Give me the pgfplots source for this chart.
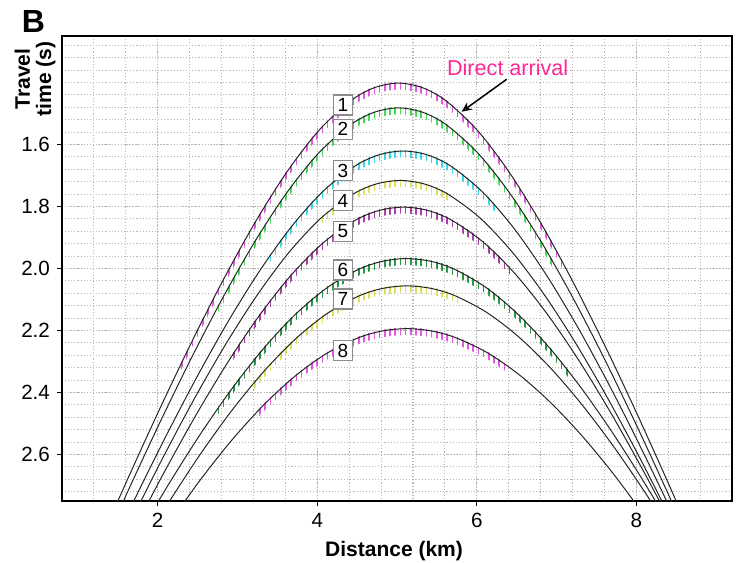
\documentclass[border=0pt]{standalone}
\usepackage{pgfplots}
\pgfplotsset{compat=1.18}
\usepackage{pgfplotstable}
\usepgfplotslibrary{fillbetween}
\usetikzlibrary{patterns.meta,arrows.meta}
\usepackage{fontspec}
\setmainfont{Liberation Sans}

\definecolor{cMag}{RGB}{225,90,225}
\definecolor{cGrn}{RGB}{70,215,90}
\definecolor{cCyan}{RGB}{60,215,230}
\definecolor{cYel}{RGB}{222,222,95}
\definecolor{cPur}{RGB}{170,65,170}
\definecolor{cDgrn}{RGB}{40,150,70}
\definecolor{cPink}{RGB}{255,40,150}

% travel-time curves (x in km, t in s)
\pgfplotstableread{
x t
1.22 2.9134
1.62 2.6809
2.02 2.4558
2.42 2.2403
2.82 2.0376
3.22 1.8518
3.62 1.6885
4.02 1.5548
4.42 1.4588
4.72 1.4164
5.02 1.4020
5.32 1.4168
5.62 1.4601
6.02 1.5581
6.42 1.6946
6.82 1.8609
7.22 2.0500
7.62 2.2561
8.02 2.4750
8.42 2.7034
8.82 2.9394
}\tabA
\pgfplotstableread{
x t
1.22 2.9506
1.62 2.7217
2.02 2.5007
2.42 2.2899
2.82 2.0924
3.22 1.9123
3.62 1.7550
4.02 1.6270
4.42 1.5358
4.72 1.4956
5.02 1.4820
5.32 1.4959
5.62 1.5367
6.02 1.6295
6.42 1.7594
6.82 1.9191
7.22 2.1016
7.62 2.3017
8.02 2.5151
8.42 2.7386
8.82 2.9701
}\tabB
\pgfplotstableread{
x t
1.28 2.9775
1.68 2.7607
2.08 2.5526
2.48 2.3554
2.88 2.1722
3.28 2.0068
3.68 1.8640
4.08 1.7492
4.48 1.6683
4.78 1.6329
5.08 1.6210
5.38 1.6335
5.68 1.6706
6.08 1.7552
6.48 1.8751
6.88 2.0239
7.28 2.1957
7.68 2.3856
8.08 2.5897
8.48 2.8047
8.88 3.0285
}\tabC
\pgfplotstableread{
x t
1.24 3.0427
1.64 2.8282
2.04 2.6229
2.44 2.4290
2.84 2.2496
3.24 2.0884
3.64 1.9498
4.04 1.8390
4.44 1.7613
4.74 1.7274
5.04 1.7160
5.34 1.7272
5.64 1.7605
6.04 1.8368
6.44 1.9457
6.84 2.0821
7.24 2.2410
7.64 2.4179
8.04 2.6091
8.44 2.8118
8.84 3.0236
}\tabD
\pgfplotstableread{
x t
1.28 3.0612
1.68 2.8548
2.08 2.6578
2.48 2.4727
2.88 2.3021
3.28 2.1497
3.68 2.0195
4.08 1.9161
4.48 1.8439
4.78 1.8126
5.08 1.8020
5.38 1.8124
5.68 1.8434
6.08 1.9147
6.48 2.0169
6.88 2.1457
7.28 2.2966
7.68 2.4654
8.08 2.6489
8.48 2.8440
8.88 3.0487
}\tabE
\pgfplotstableread{
x t
1.32 3.0630
1.72 2.8781
2.12 2.7031
2.52 2.5401
2.92 2.3915
3.32 2.2603
3.72 2.1496
4.12 2.0626
4.52 2.0026
4.82 1.9767
5.12 1.9680
5.42 1.9766
5.72 2.0024
6.12 2.0620
6.52 2.1485
6.92 2.2585
7.32 2.3890
7.72 2.5367
8.12 2.6989
8.52 2.8730
8.92 3.0571
}\tabF
\pgfplotstableread{
x t
1.72 2.9322
2.12 2.7622
2.52 2.6044
2.92 2.4611
3.32 2.3350
3.72 2.2289
4.12 2.1460
4.52 2.0888
4.82 2.0643
5.12 2.0560
5.42 2.0638
5.72 2.0870
6.12 2.1409
6.52 2.2193
6.92 2.3197
7.32 2.4395
7.72 2.5759
8.12 2.7264
8.52 2.8887
}\tabG
\pgfplotstableread{
x t
2.12 2.8311
2.52 2.6867
2.92 2.5564
3.32 2.4425
3.72 2.3475
4.12 2.2736
4.52 2.2230
4.82 2.2013
5.12 2.1940
5.42 2.2009
5.72 2.2216
6.12 2.2698
6.52 2.3403
6.92 2.4311
7.32 2.5400
7.72 2.6648
8.12 2.8034
}\tabH

% picks drawn as short vertical ticks hanging below a curve over a range
\newcommand\picks[4]{%
  \addplot[draw=none, smooth, name path=top#1, yshift=0.6pt] table {#2};
  \addplot[draw=none, smooth, name path=bot#1, yshift=-3.2pt] table {#2};
  \addplot[draw=none, pattern={Lines[angle=90,distance=2.6pt,line width=0.85pt]}, pattern color=#3]
    fill between[of=top#1 and bot#1, soft clip={domain=#4}];
}

\begin{document}
\begin{tikzpicture}
\begin{axis}[
  scale only axis,
  width=335pt, height=232.5pt,
  xmin=0.8, xmax=9.2,
  ymin=1.25, ymax=2.75,
  y dir=reverse,
  clip mode=individual,
  axis line style={line width=1pt},
  xtick={2,4,6,8},
  ytick={1.6,1.8,2.0,2.2,2.4,2.6},
  minor xtick={1.2,1.6,2.0,2.4,2.8,3.2,3.6,4.0,4.4,4.8,5.2,5.6,6.0,6.4,6.8,7.2,7.6,8.0,8.4,8.8},
  minor ytick={1.28,1.32,1.36,1.40,1.44,1.48,1.52,1.56,1.60,1.64,1.68,1.72,1.76,1.80,1.84,1.88,1.92,1.96,2.00,2.04,2.08,2.12,2.16,2.20,2.24,2.28,2.32,2.36,2.40,2.44,2.48,2.52,2.56,2.60,2.64,2.68,2.72},
  grid=both,
  grid style={black!28, densely dotted, line width=0.55pt},
  minor grid style={black!28, densely dotted, line width=0.55pt},
  tick pos=left,
  tick align=outside,
  major tick length=2.5pt,
  minor tick length=0pt,
  tick style={black, line width=0.6pt},
  /pgf/number format/assume math mode=true,
  tick label style={font=\fontsize{10.3}{12}\selectfont},
  yticklabel style={/pgf/number format/.cd, fixed, fixed zerofill, precision=1},
  xticklabel style={/pgf/number format/.cd, fixed},
]
\picks{A}{\tabA}{cMag}{2.27:7.07}
\picks{B}{\tabB}{cGrn}{2.75:6.98}
\picks{C}{\tabC}{cCyan}{3.355:6.26}
\picks{D}{\tabD}{cYel}{4.01:5.69}
\picks{E}{\tabE}{cPur}{2.95:6.45}
\picks{F}{\tabF}{cDgrn}{2.75:7.16}
\picks{G}{\tabG}{cYel}{3.2:5.81}
\picks{H}{\tabH}{cMag}{3.25:6.39}

\addplot[black!85, line width=0.5pt, smooth] table {\tabA};
\addplot[black!85, line width=0.5pt, smooth] table {\tabB};
\addplot[black!85, line width=0.5pt, smooth] table {\tabC};
\addplot[black!85, line width=0.5pt, smooth] table {\tabD};
\addplot[black!85, line width=0.5pt, smooth] table {\tabE};
\addplot[black!85, line width=0.5pt, smooth] table {\tabF};
\addplot[black!85, line width=0.5pt, smooth] table {\tabG};
\addplot[black!85, line width=0.5pt, smooth] table {\tabH};

\tikzset{lbl/.style={draw=black!45, line width=0.7pt, fill=white, inner sep=0pt,
  minimum width=9.5pt, minimum height=10pt, font=\fontsize{9.5}{10}\selectfont}}
\node[lbl] at (axis cs:4.323,1.4726) {1};
\node[lbl] at (axis cs:4.323,1.551) {2};
\node[lbl] at (axis cs:4.323,1.6845) {3};
\node[lbl] at (axis cs:4.323,1.7813) {4};
\node[lbl] at (axis cs:4.323,1.8797) {5};
\node[lbl] at (axis cs:4.323,2.0048) {6};
\node[lbl] at (axis cs:4.323,2.0984) {7};
\node[lbl] at (axis cs:4.323,2.2652) {8};

\node[anchor=base, text=cPink, inner sep=0pt, font=\fontsize{10.8}{12}\selectfont]
  at (axis cs:6.388,1.379) {Direct arrival};
\draw[-{Stealth[length=5pt,width=4.5pt,open]}, line width=0.75pt]
  (axis cs:6.375,1.3897) -- (axis cs:5.811,1.4942);

\node[anchor=base, inner sep=0pt, font=\bfseries\fontsize{10.5}{12}\selectfont]
  at (axis cs:4.9626,2.9306) {Distance (km)};
\node[rotate=90, align=center, inner sep=0pt, font=\bfseries\fontsize{10.5}{10.6}\selectfont]
  at (axis cs:0.4615,1.3887) {Travel\\time (s)};
\node[inner sep=0pt, font=\bfseries\fontsize{16}{18}\selectfont]
  at (axis cs:0.4427,1.2032) {B};

\coordinate (bbSW) at (axis cs:0.0227,2.9468);
\coordinate (bbNE) at (axis cs:9.3003,1.1339);
\end{axis}
\pgfresetboundingbox
\useasboundingbox (bbSW) rectangle (bbNE);
\end{tikzpicture}
\end{document}
